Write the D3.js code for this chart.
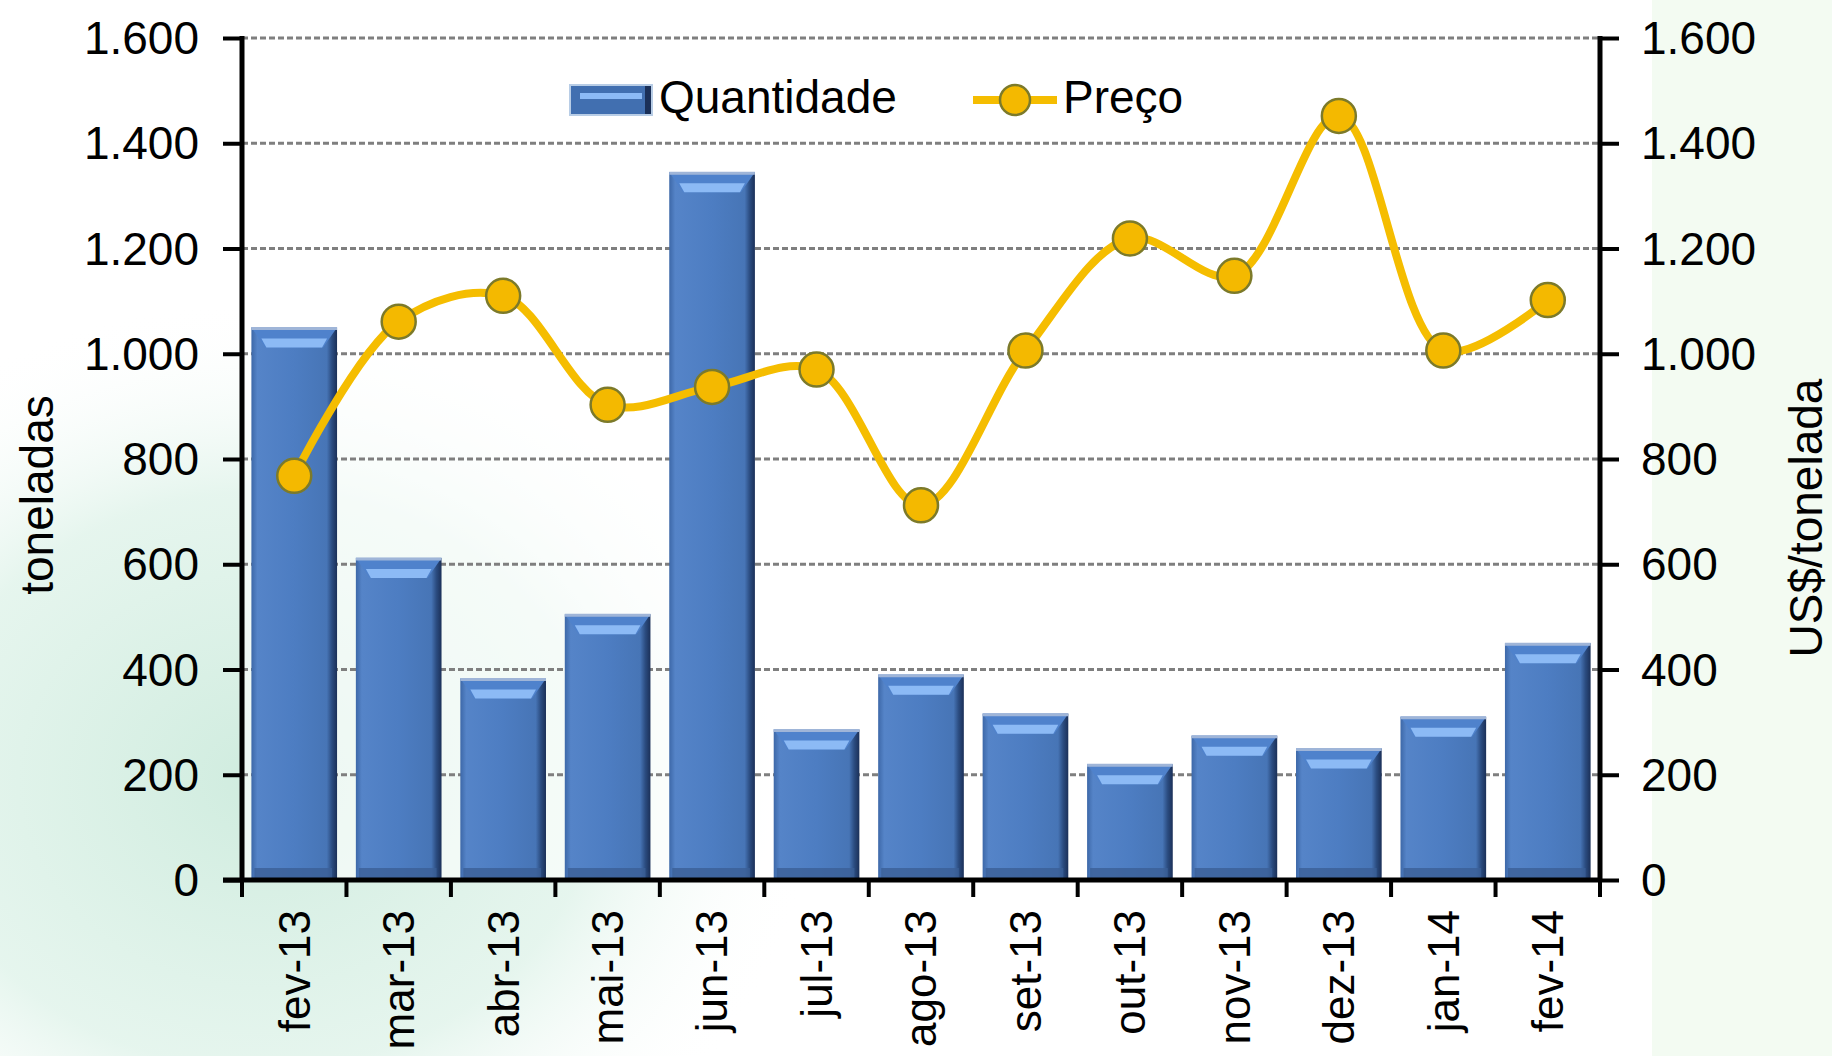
<!DOCTYPE html>
<html>
<head>
<meta charset="utf-8">
<script src="https://cdn.jsdelivr.net/npm/d3@7"></script>
<style>
  html, body { margin: 0; padding: 0; background: #ffffff; }
  svg { display: block; }
  text { font-family: "Liberation Sans", Arial, sans-serif; fill: #000; }
</style>
</head>
<body>
<svg id="chart" width="1832" height="1056"></svg>
<script>
// ---- data ----
const categories = ["fev-13","mar-13","abr-13","mai-13","jun-13","jul-13","ago-13","set-13","out-13","nov-13","dez-13","jan-14","fev-14"];
const quantidade = [1050, 612, 383, 505, 1345, 286, 390, 316, 220, 274, 250, 310, 450];
const preco = [768, 1061, 1110, 903, 937, 970, 712, 1006, 1219, 1148, 1452, 1006, 1102];
const yTicks = [0, 200, 400, 600, 800, 1000, 1200, 1400, 1600];
const seriesNames = ["Quantidade", "Preço"];
const leftTitle = "toneladas";
const rightTitle = "US$/tonelada";

// ---- layout ----
const W = 1832, H = 1056;
const m = { left: 242, right: 1600, top: 38, bottom: 880 };
const svg = d3.select("#chart");
const defs = svg.append("defs");

// background decoration
const bgGrad = defs.append("radialGradient").attr("id", "bgMint")
  .attr("cx", "0.5").attr("cy", "0.5").attr("r", "0.5");
bgGrad.append("stop").attr("offset", "0%").attr("stop-color", "#cdebdd").attr("stop-opacity", 0.95);
bgGrad.append("stop").attr("offset", "60%").attr("stop-color", "#ddf2e8").attr("stop-opacity", 0.75);
bgGrad.append("stop").attr("offset", "100%").attr("stop-color", "#ffffff").attr("stop-opacity", 0);
svg.append("rect").attr("width", W).attr("height", H).attr("fill", "#ffffff");
svg.append("ellipse").attr("cx", 260).attr("cy", 780).attr("rx", 560).attr("ry", 480).attr("fill", "url(#bgMint)");
svg.append("rect").attr("x", 1652).attr("y", 0).attr("width", W - 1652).attr("height", H).attr("fill", "#f3fbf2");
svg.append("rect").attr("x", m.left).attr("y", m.top).attr("width", m.right - m.left).attr("height", m.bottom - m.top)
  .attr("fill", "#ffffff").attr("opacity", 0.6);

// ---- scales ----
const x = d3.scaleBand().domain(categories).range([m.left, m.right]).paddingInner(0.18).paddingOuter(0.09);
const xEdge = d3.scaleBand().domain(categories).range([m.left, m.right]).padding(0);
const y = d3.scaleLinear().domain([0, 1600]).range([m.bottom, m.top]);
const y2 = d3.scaleLinear().domain([0, 1600]).range([m.bottom, m.top]);
const loc = d3.formatLocale({ decimal: ",", thousands: ".", grouping: [3], currency: ["", ""] });
const fmt = loc.format(",d");

// ---- gridlines ----
svg.append("g").selectAll("line").data(yTicks.filter(d => d > 0)).join("line")
  .attr("x1", m.left).attr("x2", m.right)
  .attr("y1", d => y(d)).attr("y2", d => y(d))
  .attr("stroke", "#7f7f7f").attr("stroke-width", 3).attr("stroke-dasharray", "6,3");

// ---- bars ----
const gBody = defs.append("linearGradient").attr("id", "barBody").attr("x1", "0").attr("x2", "1").attr("y1", "0").attr("y2", "0");
[["0%", "#3d68a8"], ["7%", "#5584c8"], ["50%", "#4d7dc2"], ["88%", "#4775b6"], ["94%", "#2b4c80"], ["100%", "#1b3058"]]
  .forEach(([o, c]) => gBody.append("stop").attr("offset", o).attr("stop-color", c));

const bars = svg.append("g").selectAll("g").data(categories).join("g");
bars.append("rect")
  .attr("x", d => x(d)).attr("width", x.bandwidth())
  .attr("y", (d, i) => y(quantidade[i])).attr("height", (d, i) => y(0) - y(quantidade[i]))
  .attr("fill", "url(#barBody)");
bars.append("rect")
  .attr("x", d => x(d) + 3).attr("width", x.bandwidth() - 8)
  .attr("y", y(0) - 12).attr("height", 10)
  .attr("fill", "#3b5f96").attr("opacity", 0.8);
bars.append("path")
  .attr("d", (d, i) => {
    const x0 = x(d), x1 = x(d) + x.bandwidth(), t = y(quantidade[i]);
    return `M${x0},${t}L${x1},${t}L${x1 - 14},${t + 20}L${x0 + 14},${t + 20}Z`;
  })
  .attr("fill", "#4f82cc");
bars.append("path")
  .attr("d", (d, i) => {
    const x0 = x(d), x1 = x(d) + x.bandwidth(), t = y(quantidade[i]);
    return `M${x0 + 10},${t + 11}L${x1 - 10},${t + 11}L${x1 - 15},${t + 20}L${x0 + 15},${t + 20}Z`;
  })
  .attr("fill", "#8cbaf5");
bars.append("line")
  .attr("x1", d => x(d)).attr("x2", d => x(d) + x.bandwidth())
  .attr("y1", (d, i) => y(quantidade[i]) + 1).attr("y2", (d, i) => y(quantidade[i]) + 1)
  .attr("stroke", "#9fb5d8").attr("stroke-width", 3);

// ---- axes ----
const axL = svg.append("g").attr("transform", `translate(${m.left},0)`)
  .call(d3.axisLeft(y).tickValues(yTicks).tickFormat(fmt).tickSize(19).tickPadding(24));
const axR = svg.append("g").attr("transform", `translate(${m.right},0)`)
  .call(d3.axisRight(y2).tickValues(yTicks).tickFormat(fmt).tickSize(19).tickPadding(22));
[axL, axR].forEach(a => {
  a.select(".domain").attr("stroke", "#000").attr("stroke-width", 5).attr("d", `M0,${m.top - 2}V${m.bottom}`);
  a.selectAll(".tick line").attr("stroke", "#000").attr("stroke-width", 4);
  a.selectAll(".tick text").attr("font-size", 46).attr("fill", "#000").attr("dy", "0.34em")
    .style("font-family", '"Liberation Sans", Arial, sans-serif');
});

// x axis
const axB = svg.append("g");
axB.append("line").attr("x1", m.left - 19).attr("x2", m.right + 2).attr("y1", m.bottom).attr("y2", m.bottom)
  .attr("stroke", "#000").attr("stroke-width", 5);
axB.selectAll("line.tk").data(categories.concat(["__end"])).join("line").attr("class", "tk")
  .attr("x1", d => d === "__end" ? m.right : xEdge(d)).attr("x2", d => d === "__end" ? m.right : xEdge(d))
  .attr("y1", m.bottom).attr("y2", m.bottom + 17)
  .attr("stroke", "#000").attr("stroke-width", 4);
axB.selectAll("text").data(categories).join("text")
  .attr("transform", d => `translate(${x(d) + x.bandwidth() / 2},${m.bottom + 30}) rotate(-90)`)
  .attr("text-anchor", "end").attr("dy", "0.35em")
  .attr("font-size", 44)
  .text(d => d);

// axis titles
svg.append("text").attr("transform", `translate(53,495) rotate(-90)`)
  .attr("text-anchor", "middle").attr("font-size", 46).text(leftTitle);
svg.append("text").attr("transform", `translate(1822,518) rotate(-90)`)
  .attr("text-anchor", "middle").attr("font-size", 46).text(rightTitle);

// ---- price line ----
const line = d3.line()
  .x((d, i) => x(categories[i]) + x.bandwidth() / 2)
  .y(d => y2(d))
  .curve(d3.curveCatmullRom.alpha(0.5));
svg.append("path").datum(preco).attr("d", line)
  .attr("fill", "none").attr("stroke", "#f5bd00").attr("stroke-width", 8)
  .attr("stroke-linejoin", "round").attr("stroke-linecap", "round");
svg.append("g").selectAll("circle").data(preco).join("circle")
  .attr("cx", (d, i) => x(categories[i]) + x.bandwidth() / 2)
  .attr("cy", d => y2(d))
  .attr("r", 17)
  .attr("fill", "#f4b900").attr("stroke", "#7c7a2a").attr("stroke-width", 2.5);

// ---- legend ----
const lg = svg.append("g");
lg.append("rect").attr("x", 570).attr("y", 85).attr("width", 82).attr("height", 30).attr("fill", "#416fb0")
  .attr("stroke", "#b8cde6").attr("stroke-width", 2);
lg.append("rect").attr("x", 580).attr("y", 93).attr("width", 62).attr("height", 6).attr("fill", "#8cbaf5");
lg.append("rect").attr("x", 645).attr("y", 86).attr("width", 6).attr("height", 28).attr("fill", "#1b3058");
lg.append("text").attr("x", 659).attr("y", 113).attr("font-size", 46).text(seriesNames[0]);
lg.append("line").attr("x1", 973).attr("x2", 1057).attr("y1", 100).attr("y2", 100)
  .attr("stroke", "#f5bd00").attr("stroke-width", 8);
lg.append("circle").attr("cx", 1015).attr("cy", 100).attr("r", 15)
  .attr("fill", "#f4b900").attr("stroke", "#7c7a2a").attr("stroke-width", 2.5);
lg.append("text").attr("x", 1063).attr("y", 113).attr("font-size", 46).text(seriesNames[1]);
</script>
</body>
</html>
